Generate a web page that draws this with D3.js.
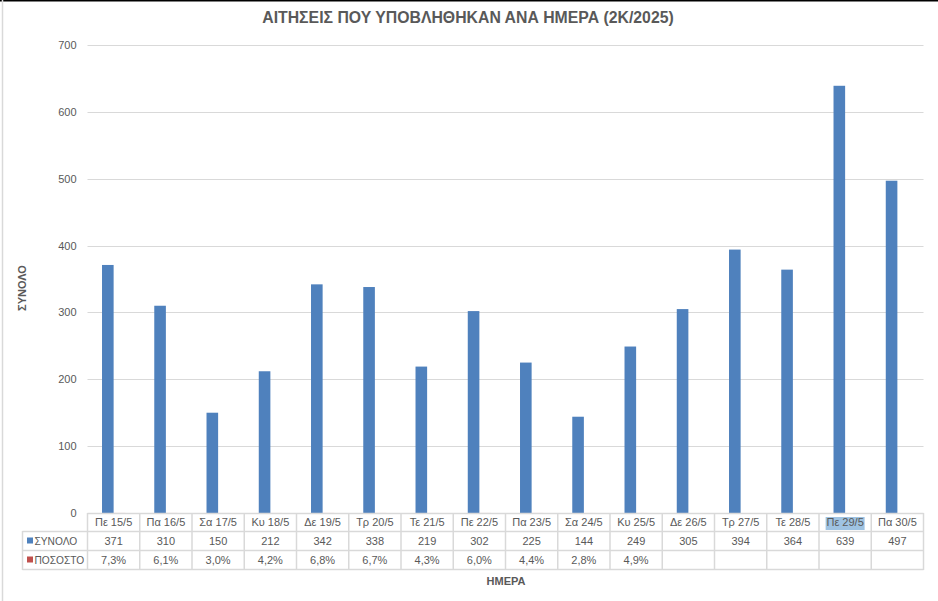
<!DOCTYPE html>
<html><head><meta charset="utf-8">
<script src="https://cdn.jsdelivr.net/npm/d3@7"></script>
<style>html,body{margin:0;padding:0;background:#fff;}svg{display:block;}</style>
</head><body>
<script>
const categories = ["Πε 15/5","Πα 16/5","Σα 17/5","Κυ 18/5","Δε 19/5","Τρ 20/5","Τε 21/5","Πε 22/5","Πα 23/5","Σα 24/5","Κυ 25/5","Δε 26/5","Τρ 27/5","Τε 28/5","Πε 29/5","Πα 30/5"];
const totals = [371,310,150,212,342,338,219,302,225,144,249,305,394,364,639,497];
const percents = [7.3,6.1,3.0,4.2,6.8,6.7,4.3,6.0,4.4,2.8,4.9,null,null,null,null,null];
const seriesNames = ["ΣΥΝΟΛΟ","ΠΟΣΟΣΤΟ"];
const seriesColors = ["#4f81bd","#c0504d"];
const yTicks = [0,100,200,300,400,500,600,700];
const title = "ΑΙΤΗΣΕΙΣ ΠΟΥ ΥΠΟΒΛΗΘΗΚΑΝ ΑΝΑ ΗΜΕΡΑ (2Κ/2025)";
const yTitle = "ΣΥΝΟΛΟ";
const xTitle = "ΗΜΕΡΑ";
const highlighted = "Πε 29/5";

const W = 938, H = 601;
const font = "'Liberation Sans', Arial, sans-serif";
const txt = "#595959", grid = "#d9d9d9";
const svg = d3.select("body").append("svg").attr("width", W).attr("height", H);

// frame borders
svg.append("line").attr("x1",0).attr("x2",W).attr("y1",0.5).attr("y2",0.5).attr("stroke","#000").attr("stroke-width",2);
svg.append("line").attr("x1",2.5).attr("x2",2.5).attr("y1",0).attr("y2",H).attr("stroke","#d9d9d9").attr("stroke-width",1.5);

const plot = {left: 87.5, right: 923.5, top: 45, bottom: 513};
const x = d3.scaleBand().domain(categories).range([plot.left, plot.right]).paddingInner(0).paddingOuter(0);
const x1 = d3.scaleBand().domain(seriesNames).range([0, x.bandwidth()]).paddingInner(0).paddingOuter(1.25);
const y = d3.scaleLinear().domain([0,700]).range([plot.bottom, plot.top]);

// title
svg.append("text").attr("x", 468).attr("y", 23).attr("text-anchor","middle")
  .attr("font-family", font).attr("font-weight","bold").attr("font-size",15.8).attr("fill",txt).text(title);

// gridlines
svg.append("g").selectAll("line").data(yTicks.filter(d=>d>0)).join("line")
  .attr("x1", plot.left).attr("x2", plot.right)
  .attr("y1", d=>Math.round(y(d))+0.5).attr("y2", d=>Math.round(y(d))+0.5)
  .attr("stroke", grid).attr("stroke-width",1);

// y axis labels
const yAxis = d3.axisLeft(y).tickValues(yTicks).tickSize(0).tickPadding(11);
const ga = svg.append("g").attr("transform", `translate(${plot.left},0)`).call(yAxis);
ga.select(".domain").remove();
ga.selectAll("text").attr("font-family", font).attr("font-size",11).attr("fill",txt);

// y title
svg.append("text").attr("transform","translate(26,288) rotate(-90)").attr("text-anchor","middle")
  .attr("font-family", font).attr("font-weight","bold").attr("font-size",11).attr("fill",txt).text(yTitle);

// bars
const rows = categories.map((c,i)=>({c, vals:[totals[i], percents[i]==null?0:percents[i]/100]}));
const gBars = svg.append("g");
rows.forEach(r=>{
  r.vals.forEach((v,j)=>{
    gBars.append("rect")
      .attr("x", x(r.c)+x1(seriesNames[j])).attr("width", x1.bandwidth())
      .attr("y", y(v)).attr("height", plot.bottom - y(v))
      .attr("fill", seriesColors[j]);
  });
});

// data table
const rowTop = [513, 531, 550, 569];
const tableLeft = 22.5;
const tg = svg.append("g");
tg.append("line").attr("x1",plot.left).attr("x2",plot.right).attr("y1",rowTop[0]+0.5).attr("y2",rowTop[0]+0.5).attr("stroke",grid).attr("stroke-width",1.5);
[1,2,3].forEach(k=>tg.append("line").attr("x1",tableLeft).attr("x2",plot.right).attr("y1",rowTop[k]+0.5).attr("y2",rowTop[k]+0.5).attr("stroke",grid).attr("stroke-width",1.5));
const bounds = categories.map(c=>x(c)).concat([x(categories[categories.length-1])+x.bandwidth()]);
bounds.forEach(b=>tg.append("line").attr("x1",b).attr("x2",b).attr("y1",rowTop[0]).attr("y2",rowTop[3]+1).attr("stroke",grid).attr("stroke-width",1.5));
tg.append("line").attr("x1",tableLeft).attr("x2",tableLeft).attr("y1",rowTop[1]).attr("y2",rowTop[3]+1).attr("stroke",grid).attr("stroke-width",1.5);

// highlight
const hx = x(highlighted) + x.bandwidth()/2;
tg.append("rect").attr("x", hx-19.5).attr("y", 517).attr("width", 39).attr("height", 13).attr("fill","#9fc3e2");

tg.selectAll("text.cat").data(categories).join("text").attr("class","cat")
  .attr("x", d=>x(d)+x.bandwidth()/2).attr("y", (rowTop[0]+rowTop[1])/2+4)
  .attr("text-anchor","middle").attr("font-family",font).attr("font-size",11).attr("fill",txt).text(d=>d);
tg.selectAll("text.tot").data(totals).join("text").attr("class","tot")
  .attr("x", (d,i)=>x(categories[i])+x.bandwidth()/2).attr("y", (rowTop[1]+rowTop[2])/2+4)
  .attr("text-anchor","middle").attr("font-family",font).attr("font-size",11).attr("fill",txt).text(d=>d);
tg.selectAll("text.pct").data(percents).join("text").attr("class","pct")
  .attr("x", (d,i)=>x(categories[i])+x.bandwidth()/2).attr("y", (rowTop[2]+rowTop[3])/2+4)
  .attr("text-anchor","middle").attr("font-family",font).attr("font-size",11).attr("fill",txt)
  .text(d=>d==null?"":d.toFixed(1).replace(".",",")+"%");

seriesNames.forEach((s,j)=>{
  const cy = (rowTop[j+1]+rowTop[j+2])/2;
  tg.append("rect").attr("x",27).attr("y",cy-3).attr("width",6).attr("height",6).attr("fill",seriesColors[j]);
  tg.append("text").attr("x",34.5).attr("y",cy+4).attr("font-family",font).attr("font-size",10.2).attr("fill",txt).text(s);
});

// x title
svg.append("text").attr("x", 506).attr("y", 585).attr("text-anchor","middle")
  .attr("font-family", font).attr("font-weight","bold").attr("font-size",11).attr("fill",txt).text(xTitle);
</script>
</body></html>
